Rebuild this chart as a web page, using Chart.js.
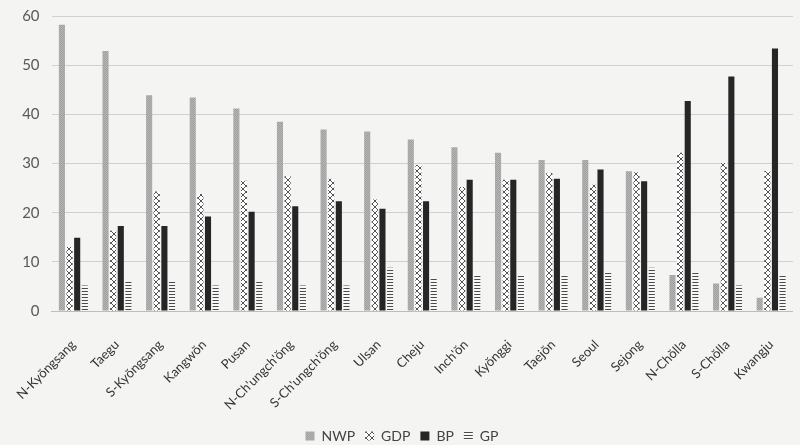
<!DOCTYPE html>
<html>
<head>
<meta charset="utf-8">
<script src="https://cdn.jsdelivr.net/npm/chart.js@4/dist/chart.umd.min.js"></script>
<style>
html,body{margin:0;padding:0;background:#f4f4f3;}
#wrap{width:800px;height:445px;}
</style>
</head>
<body>
<div id="wrap"><canvas id="c" width="800" height="445"></canvas></div>
<script>
const categories = ["N-Kyŏngsang","Taegu","S-Kyŏngsang","Kangwŏn","Pusan","N-Ch'ungch'ŏng","S-Ch'ungch'ŏng","Ulsan","Cheju","Inch'ŏn","Kyŏnggi","Taejŏn","Seoul","Sejong","N-Chŏlla","S-Chŏlla","Kwangju"];
const nwp = [58.2,52.9,43.9,43.4,41.2,38.5,36.9,36.5,34.9,33.3,32.2,30.7,30.7,28.4,7.3,5.6,2.7];
const gdp = [13.0,16.3,24.3,23.8,26.5,27.4,26.9,22.7,29.7,25.2,26.7,28.1,25.7,28.2,32.2,30.1,28.5];
const bp  = [14.9,17.3,17.3,19.2,20.2,21.3,22.3,20.8,22.3,26.7,26.7,26.9,28.8,26.4,42.7,47.7,53.4];
const gp  = [5.2,6.0,6.0,5.2,6.0,5.2,5.2,8.8,6.7,7.3,7.3,7.3,8.0,8.8,8.0,5.2,7.3];
const yTicks = [0,10,20,30,40,50,60];

function makePattern(w,h,draw){
  const c=document.createElement('canvas');c.width=w;c.height=h;
  const g=c.getContext('2d');draw(g,w,h);
  return document.getElementById('c').getContext('2d').createPattern(c,'repeat');
}
const nwpPat = makePattern(2,2,(g)=>{g.fillStyle='#b5b5b5';g.fillRect(0,0,2,2);g.fillStyle='#a0a0a0';g.fillRect(0,0,1,1);g.fillRect(1,1,1,1);});
const gdpPat = makePattern(6,6,(g,w,h)=>{
  g.fillStyle='#ffffff';g.fillRect(0,0,w,h);
  g.strokeStyle='#555';g.lineWidth=1;
  g.beginPath();g.moveTo(0,0);g.lineTo(6,6);g.moveTo(6,0);g.lineTo(0,6);g.stroke();
});
const gpPat = makePattern(4,3,(g)=>{
  g.fillStyle='#f8f8f8';g.fillRect(0,0,4,3);
  g.fillStyle='#4a4a4a';g.fillRect(0,0,4,1);
});

const font = "Lato, 'Open Sans', sans-serif";
new Chart(document.getElementById('c'),{
  type:'bar',
  data:{
    labels:categories,
    datasets:[
      {label:'NWP',data:nwp,backgroundColor:nwpPat},
      {label:'GDP',data:gdp,backgroundColor:gdpPat},
      {label:'BP',data:bp,backgroundColor:'#262626'},
      {label:'GP',data:gp,backgroundColor:gpPat}
    ]
  },
  options:{
    responsive:false,
    animation:false,
    categoryPercentage:0.7,
    barPercentage:0.8,
    layout:{padding:{left:4,right:0,top:0,bottom:-8}},
    plugins:{
      legend:{position:'bottom',labels:{font:{family:font,size:14},color:'#444',boxWidth:9,boxHeight:9,padding:10}},
      tooltip:{enabled:false}
    },
    scales:{
      x:{
        grid:{display:false},
        border:{display:true,color:'#bdbdbd'},
        ticks:{minRotation:45,maxRotation:45,autoSkip:false,font:{family:font,size:13},color:'#333',padding:18},
        afterFit:(s)=>{s.height=108;}
      },
      y:{
        min:0,max:60,
        afterBuildTicks:(ax)=>{ax.ticks=yTicks.map(v=>({value:v}));},
        afterFit:(s)=>{s.paddingTop=16;},
        grid:{color:'#d0d0d0',drawTicks:false},
        border:{display:false},
        ticks:{font:{family:font,size:15},color:'#595959',padding:12}
      }
    }
  }
});
</script>
</body>
</html>
